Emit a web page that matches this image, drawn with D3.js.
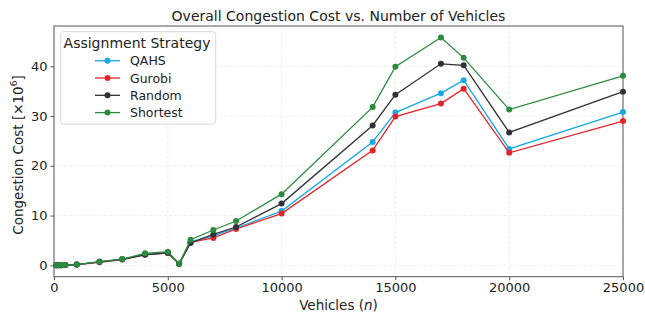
<!DOCTYPE html>
<html><head><meta charset="utf-8">
<script src="https://cdn.jsdelivr.net/npm/d3@7"></script>
<style>
html,body{margin:0;padding:0;background:#fff;}
svg{display:block;font-family:"DejaVu Sans",sans-serif;}
</style></head>
<body><svg id="c" width="645" height="314"></svg>
<script>
const vehicles = [100,200,300,500,1000,2000,3000,4000,5000,5500,6000,7000,8000,10000,14000,15000,17000,18000,20000,25000];
const qahs     = [0.01,0.02,0.03,0.05,0.15,0.7,1.2,2.2,2.5,0.3,4.7,5.9,7.5,10.9,24.8,30.7,34.6,37.2,23.4,30.8];
const gurobi   = [0.01,0.02,0.03,0.05,0.15,0.6,1.15,2.15,2.45,0.3,4.6,5.5,7.3,10.4,23.1,29.9,32.5,35.5,22.6,29.0];
const random   = [0.01,0.02,0.03,0.05,0.15,0.7,1.2,2.1,2.5,0.3,4.5,6.2,7.7,12.4,28.1,34.3,40.5,40.2,26.7,34.9];
const shortest = [0.01,0.02,0.03,0.05,0.15,0.75,1.25,2.4,2.75,0.3,5.15,7.1,8.9,14.3,31.8,39.9,45.8,41.7,31.3,38.1];
const seriesNames = ["QAHS","Gurobi","Random","Shortest"];
const seriesColors = ["#18a9e1","#e3242b","#2e3337","#2a8a3d"];
const xTicks = [0,5000,10000,15000,20000,25000];
const yTicks = [0,10,20,30,40];

const series = [qahs,gurobi,random,shortest].map((v,i)=>({name:seriesNames[i],color:seriesColors[i],values:v}));

const svg = d3.select("#c");
const L=54, R=623, T=26, B=276.7;
const x = d3.scaleLinear().domain([0,25000]).range([L,R]);
const y = d3.scaleLinear().domain([-2.29,48.1]).range([B,T]);

// grid
const g = svg.append("g");
g.selectAll(".gx").data(xTicks).join("line")
 .attr("x1",d=>x(d)).attr("x2",d=>x(d)).attr("y1",T).attr("y2",B)
 .attr("stroke","#ececec").attr("stroke-width",0.8).attr("stroke-dasharray","3,2");
g.selectAll(".gy").data(yTicks).join("line")
 .attr("y1",d=>y(d)).attr("y2",d=>y(d)).attr("x1",L).attr("x2",R)
 .attr("stroke","#ececec").attr("stroke-width",0.8).attr("stroke-dasharray","3,2");

// axes
const xAxis = svg.append("g").attr("transform",`translate(0,${B})`)
 .call(d3.axisBottom(x).tickValues(xTicks).tickFormat(d3.format("d")).tickSize(3.5).tickPadding(3));
const yAxis = svg.append("g").attr("transform",`translate(${L},0)`)
 .call(d3.axisLeft(y).tickValues(yTicks).tickFormat(d3.format("d")).tickSize(3.5).tickPadding(3));
[xAxis,yAxis].forEach(a=>{
  a.select(".domain").remove();
  a.selectAll("line").attr("stroke","#555");
  a.selectAll("text").attr("font-size","13px").attr("fill","#222").attr("font-family","DejaVu Sans");
});

// frame
svg.append("rect").attr("x",L).attr("y",T).attr("width",R-L).attr("height",B-T)
 .attr("fill","none").attr("stroke","#555").attr("stroke-width",1);

// lines
const line = d3.line().x((d,i)=>x(vehicles[i])).y(d=>y(d));
series.forEach(s=>{
  const gg = svg.append("g");
  gg.append("path").attr("d",line(s.values)).attr("fill","none")
    .attr("stroke",s.color).attr("stroke-width",1.3);
  gg.selectAll("circle").data(s.values).join("circle")
    .attr("cx",(d,i)=>x(vehicles[i])).attr("cy",d=>y(d)).attr("r",3)
    .attr("fill",s.color);
});

// title
svg.append("text").attr("x",(L+R)/2).attr("y",21).attr("text-anchor","middle")
 .attr("font-size","14px").attr("fill","#222").text("Overall Congestion Cost vs. Number of Vehicles");

// x label
const xl = svg.append("text").attr("x",(L+R)/2).attr("y",310).attr("text-anchor","middle")
 .attr("font-size","13.5px").attr("fill","#222");
xl.append("tspan").text("Vehicles (");
xl.append("tspan").attr("font-style","italic").text("n");
xl.append("tspan").text(")");

// y label
const yl = svg.append("text").attr("transform",`translate(23,155) rotate(-90)`)
 .attr("text-anchor","middle").attr("font-size","13.5px").attr("fill","#222");
yl.append("tspan").text("Congestion Cost [×10");
yl.append("tspan").attr("font-size","9px").attr("dy","-6").text("6");
yl.append("tspan").attr("dy","6").text("]");

// legend
const lg = svg.append("g");
lg.append("rect").attr("x",60.7).attr("y",31.7).attr("width",155).attr("height",92.5).attr("rx",3)
 .attr("fill","#fff").attr("fill-opacity",0.85).attr("stroke","#d8d8d8").attr("stroke-width",1);
lg.append("text").attr("x",137).attr("y",47.5).attr("text-anchor","middle")
 .attr("font-size","14px").attr("fill","#222").text("Assignment Strategy");
series.forEach((s,i)=>{
  const yy = 60.7 + i*17.3;
  lg.append("line").attr("x1",95).attr("x2",120).attr("y1",yy).attr("y2",yy)
    .attr("stroke",s.color).attr("stroke-width",1.3);
  lg.append("circle").attr("cx",107.5).attr("cy",yy).attr("r",3).attr("fill",s.color);
  lg.append("text").attr("x",130).attr("y",yy+4.5).attr("font-size","12.5px").attr("fill","#222").text(s.name);
});
</script></body></html>
